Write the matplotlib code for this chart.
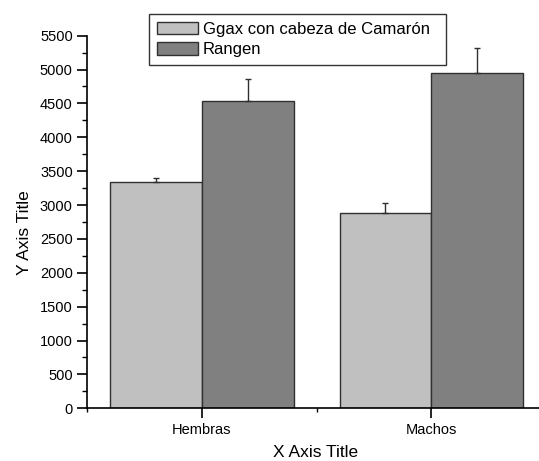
import numpy as np
import matplotlib
matplotlib.use('Agg')
import matplotlib.pyplot as plt
from matplotlib.ticker import MultipleLocator

plt.rcParams.update({
    'font.family': ['Liberation Sans', 'DejaVu Sans'],
    'font.size': 10.5,
})

groups = ['Hembras', 'Machos']
series_names = ['Ggax con cabeza de Camarón', 'Rangen']
ggax_mean = [3345, 2878]
ggax_err = [60, 157]
rangen_mean = [4531, 4954]
rangen_err = [325, 360]

bar_colors = ['#c0c0c0', '#808080']
edge = '#303030'

W, H = 539, 461
fig = plt.figure(figsize=(W / 100, H / 100), dpi=100)
ax = fig.add_axes([0.162, 0.1143, 0.851, 0.8083])

x = np.arange(1, len(groups) + 1)
w = 0.4
ekw = dict(ecolor=edge, elinewidth=1.0, capsize=2.5, capthick=1.0)

ax.bar(x - w / 2, ggax_mean, w, color=bar_colors[0], edgecolor=edge, linewidth=1.0,
       yerr=[np.zeros(len(x)), ggax_err], error_kw=ekw, label=series_names[0])
ax.bar(x + w / 2, rangen_mean, w, color=bar_colors[1], edgecolor=edge, linewidth=1.0,
       yerr=[np.zeros(len(x)), rangen_err], error_kw=ekw, label=series_names[1])

ax.set_xlim(0.5, 2.5)
ax.set_ylim(0, 5500)
ax.set_xticks(x)
ax.set_xticklabels(groups)
ax.xaxis.set_minor_locator(MultipleLocator(0.5))
ax.yaxis.set_major_locator(MultipleLocator(500))
ax.yaxis.set_minor_locator(MultipleLocator(250))

for s in ['top', 'right']:
    ax.spines[s].set_visible(False)
for s in ['left', 'bottom']:
    ax.spines[s].set_linewidth(1.2)

ax.tick_params(which='major', direction='out', length=7, width=1.2, labelsize=10.5)
ax.tick_params(which='minor', direction='out', length=3.5, width=1.0)
ax.tick_params(axis='x', which='minor', length=3)

# axis titles placed in figure pixels
fig.text(316 / W, 1 - 457 / H, 'X Axis Title', fontsize=12.5,
         ha='center', va='baseline')
fig.text(25 / W, 1 - 233 / H, 'Y Axis Title', fontsize=12.5,
         ha='center', va='center', rotation=90)

leg = fig.legend(loc='upper left',
                 bbox_to_anchor=(149.3 / W, 1 - 62.7 / H, (446 - 149.3) / W, (62.7 - 14.3) / H),
                 mode='expand', borderaxespad=0, fontsize=12, frameon=True,
                 fancybox=False, handlelength=2.45, handleheight=0.75,
                 handletextpad=0.3, borderpad=0.45, labelspacing=0.33)
leg.get_frame().set_edgecolor('black')
leg.get_frame().set_linewidth(1.0)
for h in leg.legend_handles:
    h.set_edgecolor(edge)

fig.savefig('out.png', dpi=100)
